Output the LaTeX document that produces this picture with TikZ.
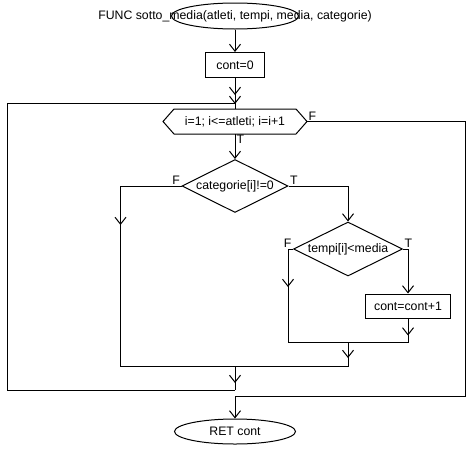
\documentclass[tikz,border=0pt]{standalone}
\usepackage{fontspec}
\setmainfont{Liberation Sans}
\usetikzlibrary{shapes.geometric,arrows.meta,positioning,decorations.markings}

\tikzset{barb/.tip={Straight Barb[length=7pt,width=11pt]}}

\begin{document}
\begin{tikzpicture}[
            x=1pt, y=-1pt,
            font=\fontsize{12.3}{14}\selectfont,
            line width=1pt,
            term/.style={
                    ellipse,
                    draw,
                    inner sep=0pt,
                    minimum height=26pt
                },
            instr/.style={rectangle, draw, inner sep=0pt, minimum height=25pt},
            cycle/.style={rectangle, inner sep=0pt, minimum width=143pt, minimum height=24pt},
            test/.style={diamond, draw, inner sep=0pt},
            flow/.style={-{barb}},
            tipat/.style={postaction={decorate, decoration={markings, mark=at position #1 with {\arrow{barb}}}}},
            tf/.style={inner sep=1pt}
        ]
        \useasboundingbox (0,0) rectangle (468,450);

        \node[term, minimum width=127pt, label={center:{FUNC sotto\_media(atleti, tempi, media, categorie)}}] (start) at (235,16) {};
        \node[instr, minimum width=59pt, below=22.5pt of start] (init) {cont=0};
        \node[cycle, below=31pt of init] (loop) {i=1; i<=atleti; i=i+1};
        \node[test, minimum width=106pt, minimum height=53pt, below=25pt of loop, label={center:{categorie[i]!=0}}] (cond1) {};
        \node[test, minimum width=109pt, minimum height=54pt, label={center:{tempi[i]<media}}] (cond2) at (348,249) {};
        \node[instr, minimum width=85pt, minimum height=24pt] (incr) at (408,306) {cont=cont+1};
        \node[term, minimum width=121pt, minimum height=25pt] (stop) at (235,431.5) {RET cont};

        % hexagon of the for loop
        \draw ([xshift=11pt]loop.north west) -- ([xshift=-11pt]loop.north east) -- (loop.east)
            -- ([xshift=-11pt]loop.south east) -- ([xshift=11pt]loop.south west) -- (loop.west) -- cycle;

        \coordinate (back) at (235,103);
        \coordinate (j1) at (235,366);
        \coordinate (j2) at (348,342);
        \coordinate (j3) at (235,390);
        \coordinate (j4) at (235,396);

        \draw[flow] (start) -- (init);
        \draw[tipat=17pt, tipat=26pt] (init) -- (loop);
        \draw[flow] (loop.south) node[tf, below right] {T} -- (cond1);
        \draw[tipat=100pt] (cond1.west) node[tf, above left] {F} -- ++(-61,0) |- (j1);
        \draw[flow] (cond1.east) node[tf, above right] {T} -| (cond2.north);
        \draw[tipat=43pt] (cond2.west) node[tf, above left] {F} -- ++(-5,0) |- (j2);
        \draw[flow] (cond2.east) node[tf, above right] {T} -| (incr.north);
        \draw[tipat=17pt] (incr.south) |- (j2);
        \draw[tipat=16pt] (j2) |- (j1);
        \draw[tipat=17pt] (j1) -- (j3);
        \draw (j3) -- ++(-228,0) |- (back);
        \draw[flow] (loop.east) node[tf, above right] {F} -- ++(158,0) |- (j4) -- (stop);
    \end{tikzpicture}
\end{document}
